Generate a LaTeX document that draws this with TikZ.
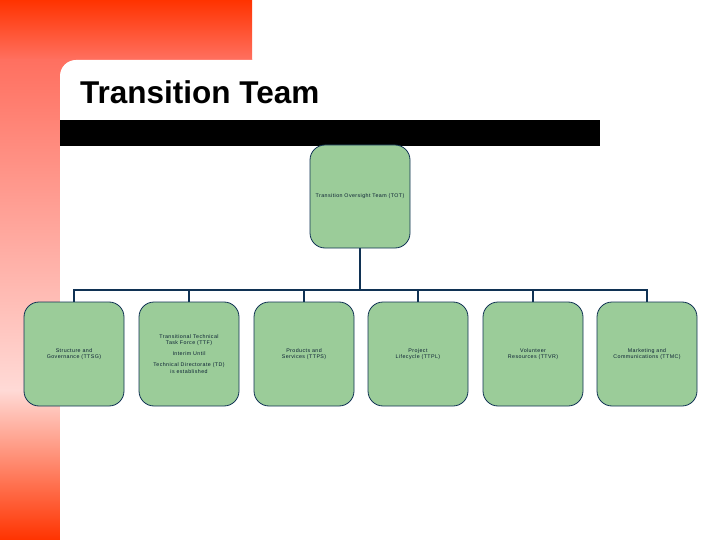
\documentclass[tikz,border=0pt]{standalone}
\usepackage{fontspec}
\setmainfont{Liberation Sans}
\definecolor{redtop}{RGB}{255,51,0}
\definecolor{redmid}{RGB}{255,112,96}
\definecolor{redpale}{RGB}{255,218,214}
\definecolor{boxgreen}{RGB}{155,204,153}
\definecolor{navy}{RGB}{16,50,84}
\tikzset{
  orgbox/.style={draw=navy, line width=0.8pt, fill=boxgreen, rounded corners=15pt,
    minimum width=100pt, minimum height=104pt, align=center, inner sep=2pt,
    font=\fontsize{5.3}{10}\selectfont\addfontfeature{LetterSpace=8}, text=navy!60!black},
  conn/.style={draw=navy, line width=2.6pt}
}
\begin{document}
\begin{tikzpicture}[x=1pt,y=-1pt]
\useasboundingbox (0,0) rectangle (720,540);
% background
\shade[top color=redtop, bottom color=redmid] (0,0) rectangle (252,60);
\shade[top color=redmid, bottom color=redpale] (0,60) rectangle (252,390);
\shade[top color=redpale, bottom color=redtop] (0,390) rectangle (60,540);
\fill[white, rounded corners=16pt] (60,60) rectangle (740,560);
% title
\node[anchor=base west, inner sep=0pt, font=\fontsize{31.5}{36}\selectfont\bfseries] (title) at (80,104) {Transition Team};
\fill[black] (60,120) rectangle (600,146);
% nodes
\node[orgbox, minimum height=103pt] (tot) at (360,196.5) {Transition Oversight Team (TOT)};
\node[orgbox] (c1) at (74,354) {Structure and\\[-4pt]Governance (TTSG)};
\node[orgbox] (c2) at (189,354) {Transitional Technical\\[-4pt]Task Force (TTF)\\[1pt]Interim Until\\[1pt]Technical Directorate (TD)\\[-3pt]is established};
\node[orgbox] (c3) at (304,354) {Products and\\[-4pt]Services (TTPS)};
\node[orgbox] (c4) at (418,354) {Project\\[-4pt]Lifecycle (TTPL)};
\node[orgbox] (c5) at (533,354) {Volunteer\\[-4pt]Resources (TTVR)};
\node[orgbox] (c6) at (647,354) {Marketing and\\[-4pt]Communications (TTMC)};
% connectors
\coordinate (bus) at (360,290);
\draw[conn] (tot.south) -- (bus);
\foreach \c in {c1,c2,c3,c4,c5,c6}{
  \draw[conn] (bus) -| (\c.north);
}
\end{tikzpicture}
\end{document}
